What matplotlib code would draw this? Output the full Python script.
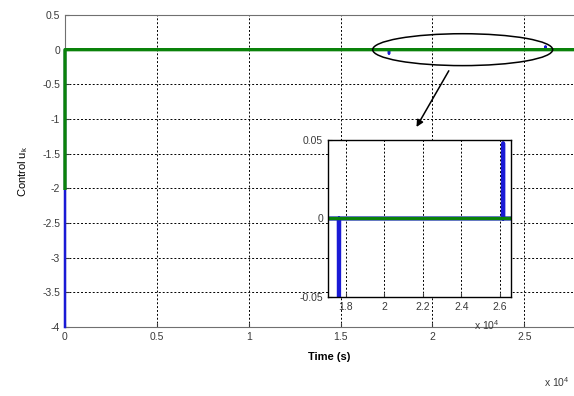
import matplotlib
matplotlib.use("Agg")
import matplotlib.pyplot as plt
from matplotlib.patches import Ellipse
from matplotlib.ticker import FuncFormatter

plt.rcParams["font.family"] = ["Liberation Sans", "DejaVu Sans"]
plt.rcParams["axes.unicode_minus"] = False
plt.rcParams["mathtext.fontset"] = "custom"
plt.rcParams["mathtext.rm"] = "Liberation Sans"
plt.rcParams["mathtext.it"] = "Liberation Sans"

# time axis in units of 1e4 seconds
t_u = [0.0, 0.0001, 1.7630, 1.7640, 1.7650, 2.6150, 2.6160, 2.6170, 2.88]
u_k = [-4.0, 0.0, 0.0, -0.06, 0.0, 0.0, 0.048, 0.0, 0.0]
t_ref = [0.0, 0.0001, 2.88]
u_ref = [-2.0, 0.0, 0.0]

main_xticks = [0, 0.5, 1, 1.5, 2, 2.5]
main_yticks = [-4, -3.5, -3, -2.5, -2, -1.5, -1, -0.5, 0, 0.5]
zoom_xticks = [1.8, 2.0, 2.2, 2.4, 2.6]
zoom_yticks = [-0.05, 0, 0.05]

blue = "#1a1ad6"
green = "#0a820a"
tick_col = "#3a3a3a"
fmt = FuncFormatter(lambda v, p: "%g" % v)

fig = plt.figure(figsize=(5.74, 3.96), dpi=100)
ax = fig.add_axes([65 / 574, 1 - 327 / 396, 529 / 574, 312 / 396])

ax.plot(t_u, u_k, color=blue, lw=1.8, clip_on=False, zorder=3)
ax.plot(t_ref, u_ref, color=green, lw=2.4, clip_on=False, zorder=3)
ax.set_xlim(0, 2.88)
ax.set_ylim(-4, 0.5)
ax.set_xticks(main_xticks)
ax.set_yticks(main_yticks)
ax.xaxis.set_major_formatter(fmt)
ax.yaxis.set_major_formatter(fmt)
ax.grid(True, color="black", linestyle=(0, (2, 2)), lw=0.7)
ax.tick_params(direction="in", length=3, labelsize=7.5, colors=tick_col)
for s in ax.spines.values():
    s.set_color("#707070")
    s.set_linewidth(0.8)
ax.set_xlabel("Time (s)", fontsize=8, fontweight="bold", labelpad=7)
ax.set_ylabel(r"Control u$_k$", fontsize=8, labelpad=9)
fig.text(544 / 574, 1 - 382 / 396, r"x 10$^4$", fontsize=7.5, color=tick_col,
         va="center", ha="left")

# highlight the two small spikes near zero
ell = Ellipse((2.165, 0.0), 0.98, 0.46, fill=False, color="black", lw=1.1,
              zorder=4)
ax.add_patch(ell)
ax.annotate("", xy=(1.906, -1.15), xytext=(2.097, -0.27),
            arrowprops=dict(arrowstyle="-|>", color="black", lw=1.1,
                            mutation_scale=10))

# zoomed view of the spikes
ins = fig.add_axes([328 / 574, 1 - 297 / 396, 183 / 574, 157 / 396])
ins.set_facecolor("white")
ins.plot(t_u, u_k, color=blue, lw=3)
ins.plot(t_ref, u_ref, color=green, lw=2.4)
ins.set_xlim(1.707, 2.657)
ins.set_ylim(-0.05, 0.05)
ins.set_xticks(zoom_xticks)
ins.set_yticks(zoom_yticks)
ins.xaxis.set_major_formatter(fmt)
ins.yaxis.set_major_formatter(fmt)
ins.grid(True, color="black", linestyle=(0, (2, 2)), lw=0.7)
ins.tick_params(direction="in", length=3, labelsize=7.5, colors=tick_col)
for s in ins.spines.values():
    s.set_color("black")
    s.set_linewidth(1.0)
fig.text(474 / 574, 1 - 325 / 396, r"x 10$^4$", fontsize=7.5, color=tick_col,
         va="center", ha="left")

fig.savefig("out.png", dpi=100)
